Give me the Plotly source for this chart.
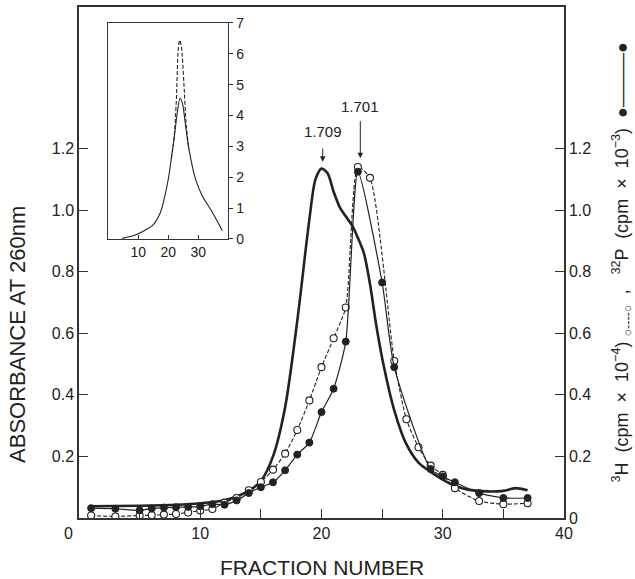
import plotly.graph_objects as go

# ---------------- data ----------------
# Absorbance at 260 nm (thick solid curve)
abs_x = [1, 5, 8, 10, 12, 13, 14, 15, 16, 17, 18, 19, 19.5, 20, 20.5, 21, 21.5, 22,
         22.6, 23, 23.5, 24, 24.5, 25, 26, 27, 28, 29, 30, 31, 32, 33, 34, 35, 36, 37]
abs_y = [0.038, 0.040, 0.043, 0.048, 0.058, 0.070, 0.088, 0.12, 0.20, 0.36, 0.64, 0.97,
         1.10, 1.135, 1.12, 1.06, 1.01, 0.98, 0.945, 0.91, 0.86, 0.76, 0.63, 0.52, 0.35,
         0.24, 0.18, 0.15, 0.125, 0.105, 0.093, 0.088, 0.086, 0.088, 0.097, 0.09]

# 32P (filled circles, thin solid line)
p32_x = [1, 3, 5, 6, 7, 8, 9, 10, 11, 12, 13, 14, 15, 16, 17, 18, 19, 20, 21, 22, 23,
         25, 26, 29, 30, 31, 33, 35, 37]
p32_y = [0.032, 0.030, 0.025, 0.031, 0.034, 0.035, 0.036, 0.038, 0.045, 0.043, 0.057,
         0.081, 0.100, 0.116, 0.155, 0.206, 0.245, 0.344, 0.42, 0.573, 1.125, 0.765,
         0.49, 0.159, 0.135, 0.116, 0.081, 0.065, 0.065]

# 3H (open circles, dashed line)
h3_x = [1, 3, 5, 6, 7, 8, 9, 10, 11, 12, 13, 14, 15, 16, 17, 18, 19, 20, 21, 22, 23,
        24, 26, 27, 28, 29, 30, 31, 33, 35, 37]
h3_y = [0.008, 0.005, 0.008, 0.009, 0.011, 0.013, 0.018, 0.024, 0.029, 0.05, 0.065,
        0.09, 0.117, 0.157, 0.209, 0.286, 0.382, 0.49, 0.584, 0.684, 1.14, 1.105, 0.51,
        0.321, 0.23, 0.17, 0.14, 0.097, 0.055, 0.045, 0.048]

# inset curves
inset_x = [4.7, 9, 12, 14.7, 17.4, 19, 20.2, 21, 21.9, 23, 23.9, 24.7, 25.8, 26.9,
           29.1, 31.3, 34.7, 38]
inset_solid = [0.02, 0.13, 0.27, 0.43, 0.86, 1.45, 2.04, 2.6, 3.22, 4.08, 4.56, 4.4,
               3.65, 2.9, 1.93, 1.40, 0.86, 0.27]
inset_dash_x = [21, 21.9, 22.7, 23.3, 23.8, 24.4, 25.2, 26, 26.9]
inset_dash_y = [2.6, 3.22, 4.5, 6.1, 6.44, 6.2, 5.05, 3.65, 2.9]

# labels
main_xticks = [5, 10, 15, 20, 25, 30, 35, 40]
main_xlabels = ["", "10", "", "20", "", "30", "", "40"]
left_yticks = [0.2, 0.4, 0.6, 0.8, 1.0, 1.2]
right_yticks = [0, 0.2, 0.4, 0.6, 0.8, 1.0, 1.2]
inset_xticks = [10, 20, 30]
inset_yticks = [0, 1, 2, 3, 4, 5, 6, 7]
peak_labels = ["1.709", "1.701"]
peak_x = [20.1, 23.2]
peak_label_y = [1.255, 1.336]
peak_tail_y = [1.205, 1.294]
peak_tip_y = [1.157, 1.169]

INK = "#222222"
FONT = "Liberation Sans, Arial, sans-serif"

fig = go.Figure()

fig.add_trace(go.Scatter(x=abs_x, y=abs_y, mode="lines",
                         line=dict(color=INK, width=2.6, shape="spline", smoothing=0.8),
                         hoverinfo="skip", showlegend=False))
fig.add_trace(go.Scatter(x=h3_x, y=h3_y, mode="lines+markers", yaxis="y2",
                         line=dict(color=INK, width=1.1, dash="4px,2px", shape="spline", smoothing=0.6),
                         marker=dict(symbol="circle", size=7, color="white",
                                     line=dict(color=INK, width=1.1)),
                         showlegend=False))
fig.add_trace(go.Scatter(x=p32_x, y=p32_y, mode="lines+markers", yaxis="y2",
                         line=dict(color=INK, width=1.2, shape="spline", smoothing=0.6),
                         marker=dict(symbol="circle", size=7, color=INK,
                                     line=dict(color=INK, width=1)),
                         showlegend=False))

# inset
fig.add_trace(go.Scatter(x=inset_x, y=inset_solid, mode="lines", xaxis="x3", yaxis="y3",
                         line=dict(color=INK, width=1.1, shape="spline", smoothing=0.8),
                         showlegend=False))
fig.add_trace(go.Scatter(x=inset_dash_x, y=inset_dash_y, mode="lines", xaxis="x3", yaxis="y3",
                         line=dict(color=INK, width=1.1, dash="4px,2px", shape="spline", smoothing=0.8),
                         showlegend=False))

axis_common = dict(showline=True, linecolor="#333333", linewidth=1.5, showgrid=False,
                   zeroline=False, ticks="inside", tickcolor="#333333", ticklen=9,
                   tickwidth=1.2, tickfont=dict(family=FONT, size=16, color=INK))

annotations = []
for lab, px, ly, ty, tip in zip(peak_labels, peak_x, peak_label_y, peak_tail_y, peak_tip_y):
    annotations.append(dict(x=px, y=ly, xref="x", yref="y", text=lab, showarrow=False,
                            font=dict(family=FONT, size=15, color=INK)))
    annotations.append(dict(x=px, y=tip, ax=px, ay=ty, xref="x", yref="y", axref="x",
                            ayref="y", text="", showarrow=True, arrowhead=2, arrowsize=1.1,
                            arrowwidth=1, arrowcolor=INK))

annotations.append(dict(x=-0.128, y=0.36, xref="paper", yref="paper", text="ABSORBANCE AT 260nm",
                        textangle=-90, showarrow=False, xanchor="center", yanchor="middle",
                        font=dict(family=FONT, size=22, color=INK)))
annotations.append(dict(x=0.5, y=-0.096, xref="paper", yref="paper", text="FRACTION NUMBER",
                        xanchor="center", yanchor="middle", showarrow=False,
                        font=dict(family=FONT, size=21, color=INK)))
annotations.append(dict(x=0.0, y=-0.031, xref="paper", yref="paper", text="0",
                        xanchor="center", yanchor="middle", showarrow=False, xshift=-11,
                        font=dict(family=FONT, size=16, color=INK)))
annotations.append(dict(x=1.1196, y=0.50, xref="paper", yref="paper",
                        text="<sup>3</sup>H  (cpm  ×  10<sup>−4</sup>) <sub>○‐‐‐‐○</sub>  ,   "
                             "<sup>32</sup>P  (cpm  ×  10<sup>−3</sup>)  ●———●",
                        textangle=-90, showarrow=False, xanchor="center", yanchor="middle",
                        font=dict(family=FONT, size=18, color=INK)))

fig.update_layout(
    width=635, height=579,
    margin=dict(l=79, r=71, t=7, b=61, autoexpand=False),
    paper_bgcolor="white", plot_bgcolor="rgba(0,0,0,0)",
    font=dict(family=FONT, color=INK),
    xaxis=dict(axis_common, range=[0, 40], tickvals=main_xticks,
               ticktext=main_xlabels, mirror=True),
    yaxis=dict(axis_common, range=[0, 1.66], tickvals=left_yticks,
               ticktext=["%.1f" % v for v in left_yticks]),
    yaxis2=dict(axis_common, range=[0, 1.66], overlaying="y", side="right",
                tickvals=right_yticks,
                ticktext=["0" if v == 0 else "%.1f" % v for v in right_yticks]),
    xaxis3=dict(domain=[0.06, 0.308], anchor="y3", range=[0, 40], showline=True,
                linecolor="#333333", linewidth=1.2, mirror=True, showgrid=False,
                zeroline=False, ticks="inside", ticklen=4, tickcolor="#333333",
                tickvals=inset_xticks, tickfont=dict(family=FONT, size=14, color=INK)),
    yaxis3=dict(domain=[0.546, 0.969], anchor="x3", range=[0, 7], side="right",
                showline=True, linecolor="#333333", linewidth=1.2, mirror=True,
                showgrid=False, zeroline=False, ticks="outside", ticklen=4,
                tickcolor="#333333", tickvals=inset_yticks,
                tickfont=dict(family=FONT, size=14, color=INK)),
    annotations=annotations,
)

fig.write_html("out.html", config={"displayModeBar": False},
               post_script="document.body.style.margin='0';document.body.style.padding='0';")
